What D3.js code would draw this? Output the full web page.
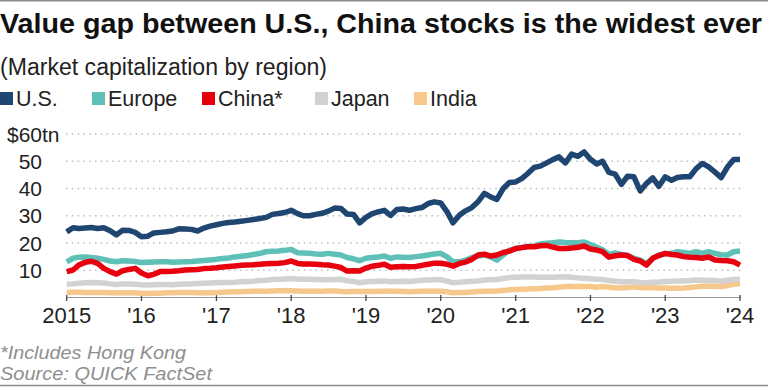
<!DOCTYPE html>
<html>
<head>
<meta charset="utf-8">
<script src="https://cdn.jsdelivr.net/npm/d3@7"></script>
<style>
  body { margin: 0; background: #fff; }
  svg { display: block; font-family: "Liberation Sans", Arial, sans-serif; }
</style>
</head>
<body>
<div id="chart"></div>
<script>
// chart data, monthly from Jan 2015 to Jan 2024 ($ trillions)
var regions = ["U.S.", "Europe", "China*", "Japan", "India"];
var colors = ["#1f4571", "#5fc0b7", "#e8000e", "#d2d2d2", "#f6c88c"];
var yearLabels = ["2015", "'16", "'17", "'18", "'19", "'20", "'21", "'22", "'23", "'24"];
var yTicks = [10, 20, 30, 40, 50, 60];

var usValues = [
  24.1, 25.6, 25.3, 25.5, 25.7, 25.3, 25.6, 24.5, 23.0, 24.7, 24.6, 23.9,
  22.3, 22.5, 23.7, 23.9, 24.1, 24.4, 25.2, 25.1, 25.0, 24.4, 25.5, 26.2,
  26.7, 27.2, 27.5, 27.7, 28.0, 28.3, 28.6, 29.0, 29.4, 30.5, 30.8, 31.2,
  32.0, 30.8, 30.0, 30.0, 30.5, 30.9, 31.7, 32.8, 32.7, 30.6, 30.5, 27.4,
  29.4, 30.8, 31.4, 32.0, 30.1, 32.3, 32.5, 32.0, 32.6, 33.0, 34.5, 35.1,
  34.7, 31.4, 27.4, 30.2, 31.8, 33.0, 35.1, 38.2, 36.9, 36.0, 40.0, 42.2,
  42.4, 43.7, 45.5, 47.7, 48.2, 49.4, 50.6, 51.6, 49.4, 52.6, 51.8, 53.4,
  50.7, 49.0, 50.0, 45.9, 45.3, 41.5, 44.5, 44.3, 39.1, 41.8, 43.9, 40.8,
  44.3, 43.0, 44.0, 44.3, 44.3, 47.3, 49.2, 47.9, 46.0, 44.0, 47.9, 50.6,
  50.6
];
var europeValues = [
  13.1, 14.4, 14.8, 14.9, 14.7, 14.4, 14.0, 13.4, 13.1, 13.5, 13.4, 13.2,
  12.8, 12.9, 13.0, 13.1, 13.1, 12.9, 13.0, 13.1, 13.2, 13.4, 13.6, 13.8,
  14.0, 14.3, 14.5, 14.9, 15.1, 15.4, 15.8, 16.2, 16.8, 17.0, 17.1, 17.3,
  17.6, 16.4, 16.3, 16.2, 16.0, 15.9, 16.2, 15.9, 15.6, 14.7, 14.2, 13.5,
  14.4, 14.7, 14.9, 15.2, 14.4, 14.9, 14.8, 14.7, 15.0, 15.2, 15.6, 16.0,
  16.2, 14.9, 13.1, 13.1, 13.7, 14.7, 15.2, 15.6, 14.9, 13.7, 15.6, 17.4,
  17.9, 18.4, 18.8, 18.9, 19.6, 19.9, 20.1, 20.4, 20.2, 20.1, 20.1, 20.4,
  19.4, 18.4, 17.5, 15.8, 16.4, 15.8, 15.4, 14.5, 13.7, 12.5, 14.4, 15.6,
  16.0, 16.2, 16.8, 16.5, 16.2, 16.8, 16.2, 16.8, 16.2, 15.7, 15.6, 16.8,
  17.1
];
var chinaValues = [
  9.5, 10.1, 11.9, 12.9, 13.3, 12.5, 10.7, 9.5, 8.6, 9.8, 10.3, 10.7,
  9.0, 8.0, 8.5, 9.5, 9.5, 9.6, 9.8, 10.1, 10.2, 10.3, 10.6, 10.7,
  10.9, 11.2, 11.4, 11.6, 11.8, 11.9, 12.0, 12.2, 12.4, 12.5, 12.6, 12.8,
  13.4, 12.5, 12.3, 12.3, 12.2, 12.0, 11.9, 11.5, 11.0, 9.7, 9.8, 9.7,
  10.8, 11.5, 11.8, 12.2, 11.1, 11.3, 11.4, 11.3, 11.4, 11.8, 12.2, 12.6,
  12.6, 12.2, 11.5, 12.5, 13.0, 14.0, 15.6, 15.9, 15.2, 15.6, 16.5, 17.0,
  18.0, 18.3, 18.6, 18.6, 19.0, 19.1, 18.5, 18.0, 18.0, 18.2, 18.4, 18.9,
  17.8, 17.4, 16.8, 14.8, 15.3, 15.6, 15.4, 14.0, 13.4, 11.9, 14.4, 15.4,
  16.2, 15.8, 15.6, 15.0, 14.8, 14.7, 14.4, 14.9, 13.8, 13.6, 13.5, 13.1,
  11.9
];
var japanValues = [
  4.9, 5.0, 5.2, 5.4, 5.5, 5.4, 5.3, 5.0, 4.8, 5.0, 5.0, 4.9,
  4.7, 4.6, 4.7, 4.8, 4.8, 4.7, 4.9, 5.0, 5.0, 5.1, 5.2, 5.3,
  5.4, 5.5, 5.5, 5.6, 5.8, 5.9, 6.0, 6.2, 6.3, 6.6, 6.7, 6.8,
  7.0, 6.8, 6.7, 6.7, 6.6, 6.5, 6.5, 6.6, 6.7, 6.1, 5.9, 5.4,
  5.8, 5.9, 6.0, 6.1, 5.8, 5.9, 6.0, 5.9, 6.1, 6.3, 6.4, 6.5,
  6.5, 6.0, 5.4, 5.6, 5.8, 6.0, 6.1, 6.4, 6.5, 6.6, 7.0, 7.3,
  7.4, 7.5, 7.6, 7.5, 7.4, 7.5, 7.4, 7.5, 7.6, 7.4, 7.2, 7.1,
  6.9, 6.7, 6.6, 6.2, 6.0, 5.8, 5.8, 5.8, 5.5, 5.4, 5.6, 5.7,
  5.9, 6.0, 6.1, 6.1, 6.2, 6.4, 6.3, 6.3, 6.2, 6.0, 6.3, 6.6,
  6.7
];
var indiaValues = [
  1.8, 1.9, 1.9, 1.8, 1.8, 1.8, 1.8, 1.7, 1.7, 1.7, 1.7, 1.7,
  1.6, 1.5, 1.6, 1.6, 1.7, 1.7, 1.8, 1.8, 1.8, 1.7, 1.7, 1.7,
  1.8, 1.9, 2.0, 2.1, 2.1, 2.2, 2.3, 2.3, 2.3, 2.4, 2.5, 2.5,
  2.5, 2.4, 2.3, 2.3, 2.3, 2.3, 2.4, 2.4, 2.2, 2.1, 2.2, 2.2,
  2.2, 2.2, 2.3, 2.3, 2.3, 2.3, 2.2, 2.1, 2.2, 2.3, 2.3, 2.3,
  2.3, 2.1, 1.7, 1.8, 1.8, 2.0, 2.2, 2.3, 2.3, 2.4, 2.6, 2.8,
  2.9, 3.0, 3.1, 3.2, 3.3, 3.5, 3.6, 3.8, 4.0, 4.0, 4.0, 4.0,
  4.0, 3.8, 4.0, 3.8, 3.6, 3.5, 3.7, 3.9, 3.7, 3.6, 3.6, 3.5,
  3.5, 3.4, 3.4, 3.5, 3.7, 3.9, 4.1, 4.2, 4.1, 4.0, 4.4, 4.9,
  5.0
];

var seriesValues = [usValues, europeValues, chinaValues, japanValues, indiaValues];

var width = 768, height = 387;

var svg = d3.select("#chart").append("svg")
    .attr("width", width)
    .attr("height", height);

// frame lines top and bottom
svg.append("line").attr("x1", 0).attr("x2", width).attr("y1", 0.75).attr("y2", 0.75)
    .attr("stroke", "#8a8a8a").attr("stroke-width", 1.5);
svg.append("line").attr("x1", 0).attr("x2", width).attr("y1", 385.5).attr("y2", 385.5)
    .attr("stroke", "#8a8a8a").attr("stroke-width", 1.5);

// title + subtitle
svg.append("text")
    .attr("x", 0).attr("y", 33)
    .attr("font-size", 28.5).attr("font-weight", "bold").attr("fill", "#111")
    .attr("textLength", 762).attr("lengthAdjust", "spacingAndGlyphs")
    .text("Value gap between U.S., China stocks is the widest ever");

svg.append("text")
    .attr("x", 0).attr("y", 75)
    .attr("font-size", 23).attr("fill", "#222")
    .attr("textLength", 327).attr("lengthAdjust", "spacingAndGlyphs")
    .text("(Market capitalization by region)");

// legend
var legendX = [0, 92, 202, 315, 414];
var legend = svg.append("g").selectAll("g")
    .data(regions)
    .enter().append("g")
    .attr("transform", function(d, i) { return "translate(" + legendX[i] + ",0)"; });
legend.append("rect")
    .attr("x", 0).attr("y", 92).attr("width", 13).attr("height", 13)
    .attr("fill", function(d, i) { return colors[i]; });
legend.append("text")
    .attr("x", 16).attr("y", 106)
    .attr("font-size", 21.5).attr("fill", "#222")
    .text(function(d) { return d; });

// scales
var x = d3.scaleTime()
    .domain([new Date(2015, 0, 1), new Date(2024, 0, 1)])
    .range([66.7, 740]);
var y = d3.scaleLinear()
    .domain([0, 60])
    .range([297.5, 134]);

// gridlines
svg.append("g").selectAll("line")
    .data(yTicks)
    .enter().append("line")
    .attr("x1", 66).attr("x2", 742)
    .attr("y1", function(d) { return y(d); })
    .attr("y2", function(d) { return y(d); })
    .attr("stroke", "#bdbdbd")
    .attr("stroke-width", 1.5)
    .attr("stroke-dasharray", "1.5,4.3");

// y labels
var yLab = svg.append("g").attr("font-size", 21).attr("fill", "#222");
yLab.selectAll("text.num")
    .data(yTicks)
    .enter().append("text")
    .attr("class", "num")
    .attr("x", 42)
    .attr("y", function(d) { return y(d); })
    .attr("dy", "0.36em")
    .attr("text-anchor", "end")
    .text(function(d) { return d; });
var topNum = yLab.select("text.num:last-child").node();
var topW = topNum.getComputedTextLength();
yLab.append("text")
    .attr("x", 42 - topW).attr("y", y(60)).attr("dy", "0.36em")
    .attr("text-anchor", "end").text("$");
yLab.append("text")
    .attr("x", 42).attr("y", y(60)).attr("dy", "0.36em")
    .text("tn");

// x axis
var tickDates = yearLabels.map(function(d, i) { return new Date(2015 + i, 0, 1); });
svg.append("line")
    .attr("x1", 66).attr("x2", 741)
    .attr("y1", 297.5).attr("y2", 297.5)
    .attr("stroke", "#9a9a9a").attr("stroke-width", 1);
var xAxis = svg.append("g");
xAxis.selectAll("line")
    .data(tickDates)
    .enter().append("line")
    .attr("x1", function(d) { return x(d); })
    .attr("x2", function(d) { return x(d); })
    .attr("y1", 295).attr("y2", 301)
    .attr("stroke", "#444").attr("stroke-width", 1.3);
xAxis.selectAll("text")
    .data(tickDates)
    .enter().append("text")
    .attr("x", function(d) { return x(d); })
    .attr("y", 323)
    .attr("text-anchor", "middle")
    .attr("font-size", 22).attr("fill", "#222")
    .text(function(d, i) { return yearLabels[i]; });

// lines, drawn from India up to U.S.
var line = d3.line()
    .x(function(d) { return x(d.date); })
    .y(function(d) { return y(d.value); });

var drawOrder = [4, 3, 1, 2, 0];
drawOrder.forEach(function(k) {
  var pts = seriesValues[k].map(function(v, i) {
    return {date: new Date(2015, i, 1), value: v};
  });
  svg.append("path")
      .datum(pts)
      .attr("d", line)
      .attr("fill", "none")
      .attr("stroke", colors[k])
      .attr("stroke-width", 5.5)
      .attr("stroke-linejoin", "round");
});

// footnotes
svg.append("text")
    .attr("x", 0).attr("y", 359)
    .attr("font-size", 17.5).attr("font-style", "italic").attr("fill", "#8e8e8e")
    .attr("textLength", 186).attr("lengthAdjust", "spacingAndGlyphs")
    .text("*Includes Hong Kong");
svg.append("text")
    .attr("x", 0).attr("y", 380)
    .attr("font-size", 17.5).attr("font-style", "italic").attr("fill", "#8e8e8e")
    .attr("textLength", 212).attr("lengthAdjust", "spacingAndGlyphs")
    .text("Source: QUICK FactSet");
</script>
</body>
</html>
